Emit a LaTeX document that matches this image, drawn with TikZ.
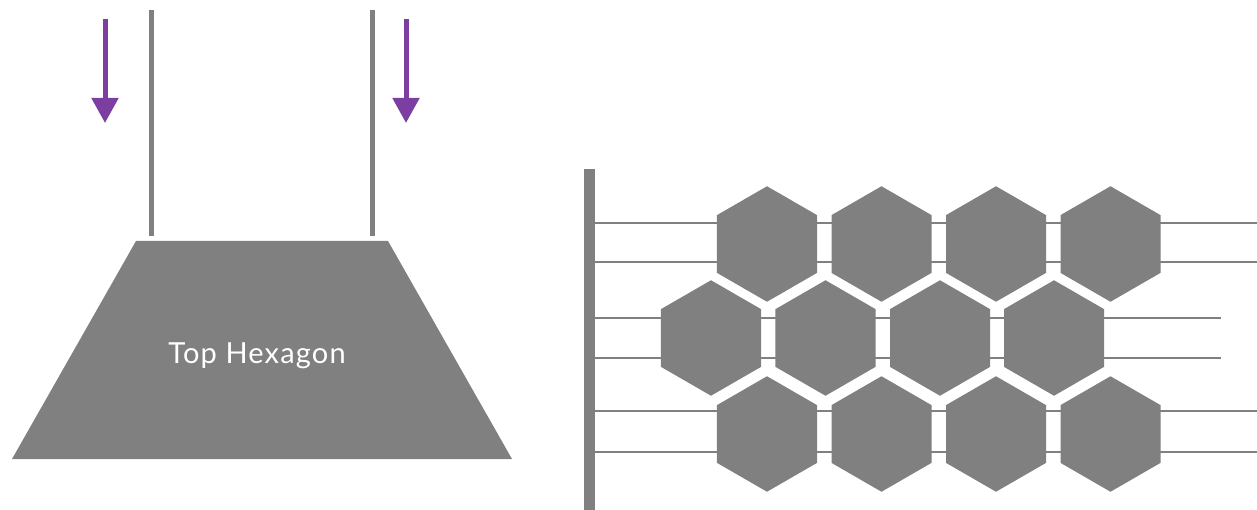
\documentclass[tikz,border=0pt]{standalone}
\usepackage{fontspec}
\setmainfont{Lato}
\newfontfamily\labelfont{Lato}[LetterSpace=4]
\usetikzlibrary{shapes.geometric,arrows.meta}
\definecolor{hexgray}{RGB}{128,128,128}
\definecolor{flow}{RGB}{124,62,160}
\tikzset{
  rod/.style={draw=hexgray, line width=5pt},
  wire/.style={draw=hexgray, line width=2.6pt},
  post/.style={draw=hexgray, line width=11pt},
  flowarrow/.style={draw=flow, line width=5pt, -{Triangle[width=26pt,length=25pt]}},
  hexcell/.style={regular polygon, regular polygon sides=6, shape border rotate=30,
    minimum size=115.5pt, inner sep=0pt, outer sep=0pt, fill=hexgray, draw=none},
}
\begin{document}
\begin{tikzpicture}[x=1pt,y=-1pt]
\useasboundingbox (0,0) rectangle (1257,510);

% --- left: trapezoid with two rods and inflow arrows
\fill[hexgray] (136,241) -- (388,241) -- (512,459) -- (12,459) -- cycle;
\node[text=white, font=\labelfont\fontsize{29}{34}\selectfont, anchor=base,
      inner sep=0pt] (label) at (257,363) {Top Hexagon};

\coordinate (rodLtop) at (151,10);
\coordinate (rodLbot) at (151,236);
\coordinate (rodRtop) at (372,10);
\coordinate (rodRbot) at (372,236);
\draw[rod] (rodLtop) -- (rodLbot);
\draw[rod] (rodRtop) -- (rodRbot);

\coordinate (arrLs) at (105,19);
\coordinate (arrLe) at (105,123);
\coordinate (arrRs) at (406,19);
\coordinate (arrRe) at (406,123);
\draw[flowarrow] (arrLs) -- (arrLe);
\draw[flowarrow] (arrRs) -- (arrRe);

% --- right: wall post with wires, hexagons threaded on them
\coordinate (postTop) at (589,169);
\coordinate (postBot) at (589,510);
\draw[post] (postTop) -- (postBot);

\foreach \y/\xe [count=\i] in {223/1257, 262/1257, 318/1221, 358/1221, 411/1257, 452/1257}{
  \coordinate (w\i s) at (594,\y);
  \coordinate (w\i e) at (\xe,\y);
  \draw[wire] (w\i s) -- (w\i e);
}

\foreach \x [count=\i] in {767,881.5,996,1110.5}{
  \node[hexcell] (a\i) at (\x,244) {};
  \node[hexcell] (c\i) at (\x,434) {};
}
\foreach \x [count=\i] in {711,825.5,940,1054}{
  \node[hexcell] (b\i) at (\x,338) {};
}
\end{tikzpicture}
\end{document}
